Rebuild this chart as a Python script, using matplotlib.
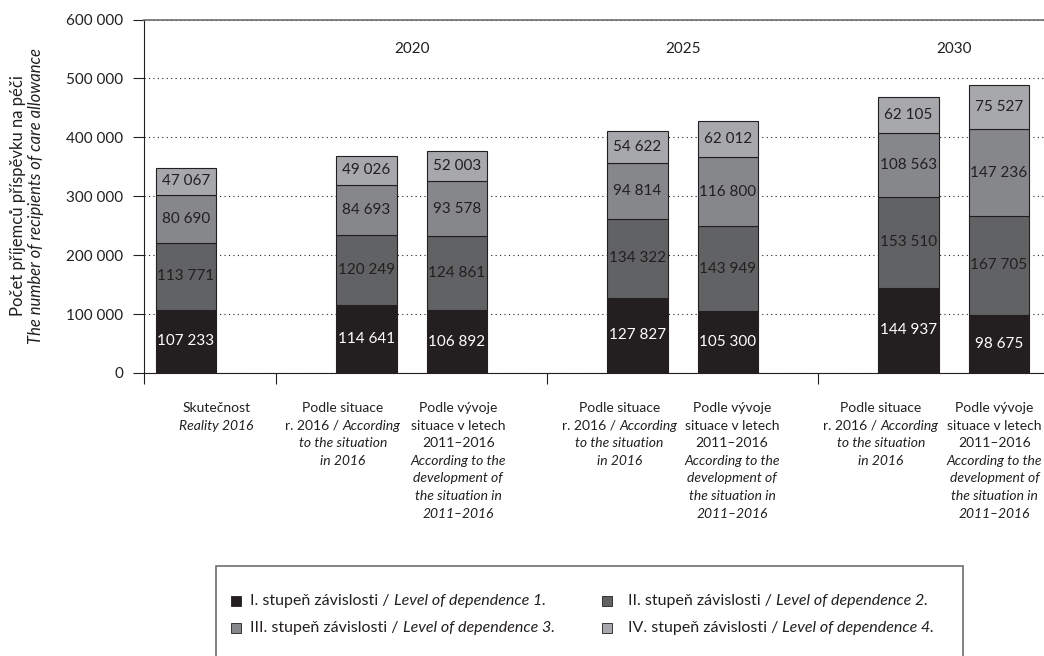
import matplotlib
matplotlib.use("Agg")
import matplotlib.pyplot as plt
from matplotlib.patches import Rectangle
from matplotlib.offsetbox import TextArea, HPacker, VPacker, AnnotationBbox

plt.rcParams["font.family"] = ["Lato", "DejaVu Sans"]

# -------------------------------
# DATA
# -------------------------------

positions = [0, 2, 3, 5, 6, 8, 9]
groups = ["2020", "2025", "2030"]

level1 = [107233, 114641, 106892, 127827, 105300, 144937, 98675]
level2 = [113771, 120249, 124861, 134322, 143949, 153510, 167705]
level3 = [80690, 84693, 93578, 94814, 116800, 108563, 147236]
level4 = [47067, 49026, 52003, 54622, 62012, 62105, 75527]

# italic parts are wrapped in *...*
lab_reality = ["Skutečnost", "*Reality 2016*"]
lab_2016 = ["Podle situace", "r. 2016 / *According*", "*to the situation*", "*in 2016*"]
lab_trend = ["Podle vývoje", "situace v letech", "2011–2016", "*According to the*",
             "*development of*", "*the situation in*", "*2011–2016*"]
tick_labels = [lab_reality, lab_2016, lab_trend, lab_2016, lab_trend, lab_2016, lab_trend]

legend_labels = [
    "I. stupeň závislosti / *Level of dependence 1.*",
    "II. stupeň závislosti / *Level of dependence 2.*",
    "III. stupeň závislosti / *Level of dependence 3.*",
    "IV. stupeň závislosti / *Level of dependence 4.*",
]

colors = ["#231f20", "#616264", "#86878a", "#a6a8ab"]
text_colors = ["white", "#231f20", "#231f20", "#231f20"]
dark = "#231f20"

# horizontal shift of the category labels (points), as in the original layout
label_shift = [22, -17, 1, -13, 3, -20, -3]


def fmt(v):
    return f"{v:,}".replace(",", " ")


def parse(line):
    parts = line.split("*")
    return [(p, i % 2 == 1) for i, p in enumerate(parts) if p]


def rich_box(lines, size, sep=0.0):
    rows = []
    for line in lines:
        areas = [TextArea(t, textprops=dict(fontsize=size, color=dark,
                                            style="italic" if it else "normal"))
                 for t, it in parse(line)]
        rows.append(HPacker(children=areas, align="baseline", pad=0, sep=0))
    return VPacker(children=rows, align="center", pad=0, sep=sep)


# -------------------------------
# CHART
# -------------------------------

fig = plt.figure(figsize=(10.44, 6.56), dpi=100)
ax = fig.add_axes([144 / 1044, 1 - 373 / 656, 1 - 144 / 1044, (373 - 19.5) / 656])

series = [level1, level2, level3, level4]
bottom = [0] * len(positions)
for vals, col, tcol in zip(series, colors, text_colors):
    ax.bar(positions, vals, width=0.67, bottom=bottom, color=col,
           edgecolor=dark, linewidth=0.8, zorder=2)
    for x, b, v in zip(positions, bottom, vals):
        ax.text(x, b + v / 2, fmt(v), ha="center", va="center",
                fontsize=11, color=tcol, zorder=3)
    bottom = [b + v for b, v in zip(bottom, vals)]

# group titles
for i, g in enumerate(groups):
    gx = (positions[1 + 2 * i] + positions[2 + 2 * i]) / 2
    ax.text(gx, 550000, g, ha="center", va="center", fontsize=11, color=dark)

ax.set_xlim(-0.464, 9.5)
ax.set_ylim(0, 600000)
ax.set_yticks(range(0, 600001, 100000))
ax.set_yticklabels([fmt(v) for v in range(0, 600001, 100000)], fontsize=11, color=dark)

seps = [(positions[k] + positions[k + 1]) / 2 for k in (0, 2, 4)]
ax.set_xticks([-0.464] + seps)
ax.set_xticklabels([])
ax.tick_params(axis="both", direction="out", length=8, width=0.8, color=dark)
ax.tick_params(axis="y", pad=7)

ax.yaxis.grid(True, linestyle=(0, (1, 3)), color=dark, linewidth=0.8)
ax.set_axisbelow(True)

ax.spines["right"].set_visible(False)
ax.spines["top"].set_color("#6d6e70")
ax.spines["top"].set_linewidth(1.2)
ax.spines["left"].set_color(dark)
ax.spines["bottom"].set_color(dark)
ax.spines["left"].set_linewidth(0.8)
ax.spines["bottom"].set_linewidth(0.8)

# category labels under the bars
for x, lines, dx in zip(positions, tick_labels, label_shift):
    box = rich_box(lines, 10, sep=4.0)
    ab = AnnotationBbox(box, (x, 0), xycoords=("data", "axes fraction"),
                        xybox=(dx, -21), boxcoords="offset points",
                        box_alignment=(0.5, 1), frameon=False, pad=0)
    ax.add_artist(ab)

# y axis title
fig.text(18 / 1044, 1 - 196 / 656, "Počet příjemců příspěvku na péči",
         rotation=90, ha="center", va="center", fontsize=12, color=dark)
fig.text(36 / 1044, 1 - 196 / 656, "The number of recipients of care allowance",
         rotation=90, ha="center", va="center", fontsize=12, color=dark, style="italic")

# -------------------------------
# LEGEND (custom box)
# -------------------------------

fig.add_artist(Rectangle((216, -10), 963 - 216, 656 - 566 + 10, transform=None,
                         fill=False, edgecolor="#6d6e70", linewidth=1.2))

leg_marker = [(236, 55), (607, 55), (236, 28), (607, 28)]
leg_text_x = [250, 628, 250, 628]
for (mx, my), tx, lab, col in zip(leg_marker, leg_text_x, legend_labels, colors):
    fig.add_artist(Rectangle((mx - 5, my - 5), 10, 10, transform=None,
                             facecolor=col, edgecolor=dark, linewidth=0.6))
    box = rich_box([lab], 11.5)
    ab = AnnotationBbox(box, (tx, my), xycoords="figure pixels",
                        box_alignment=(0, 0.5), frameon=False, pad=0)
    fig.add_artist(ab)

fig.savefig("out.png", dpi=100)
